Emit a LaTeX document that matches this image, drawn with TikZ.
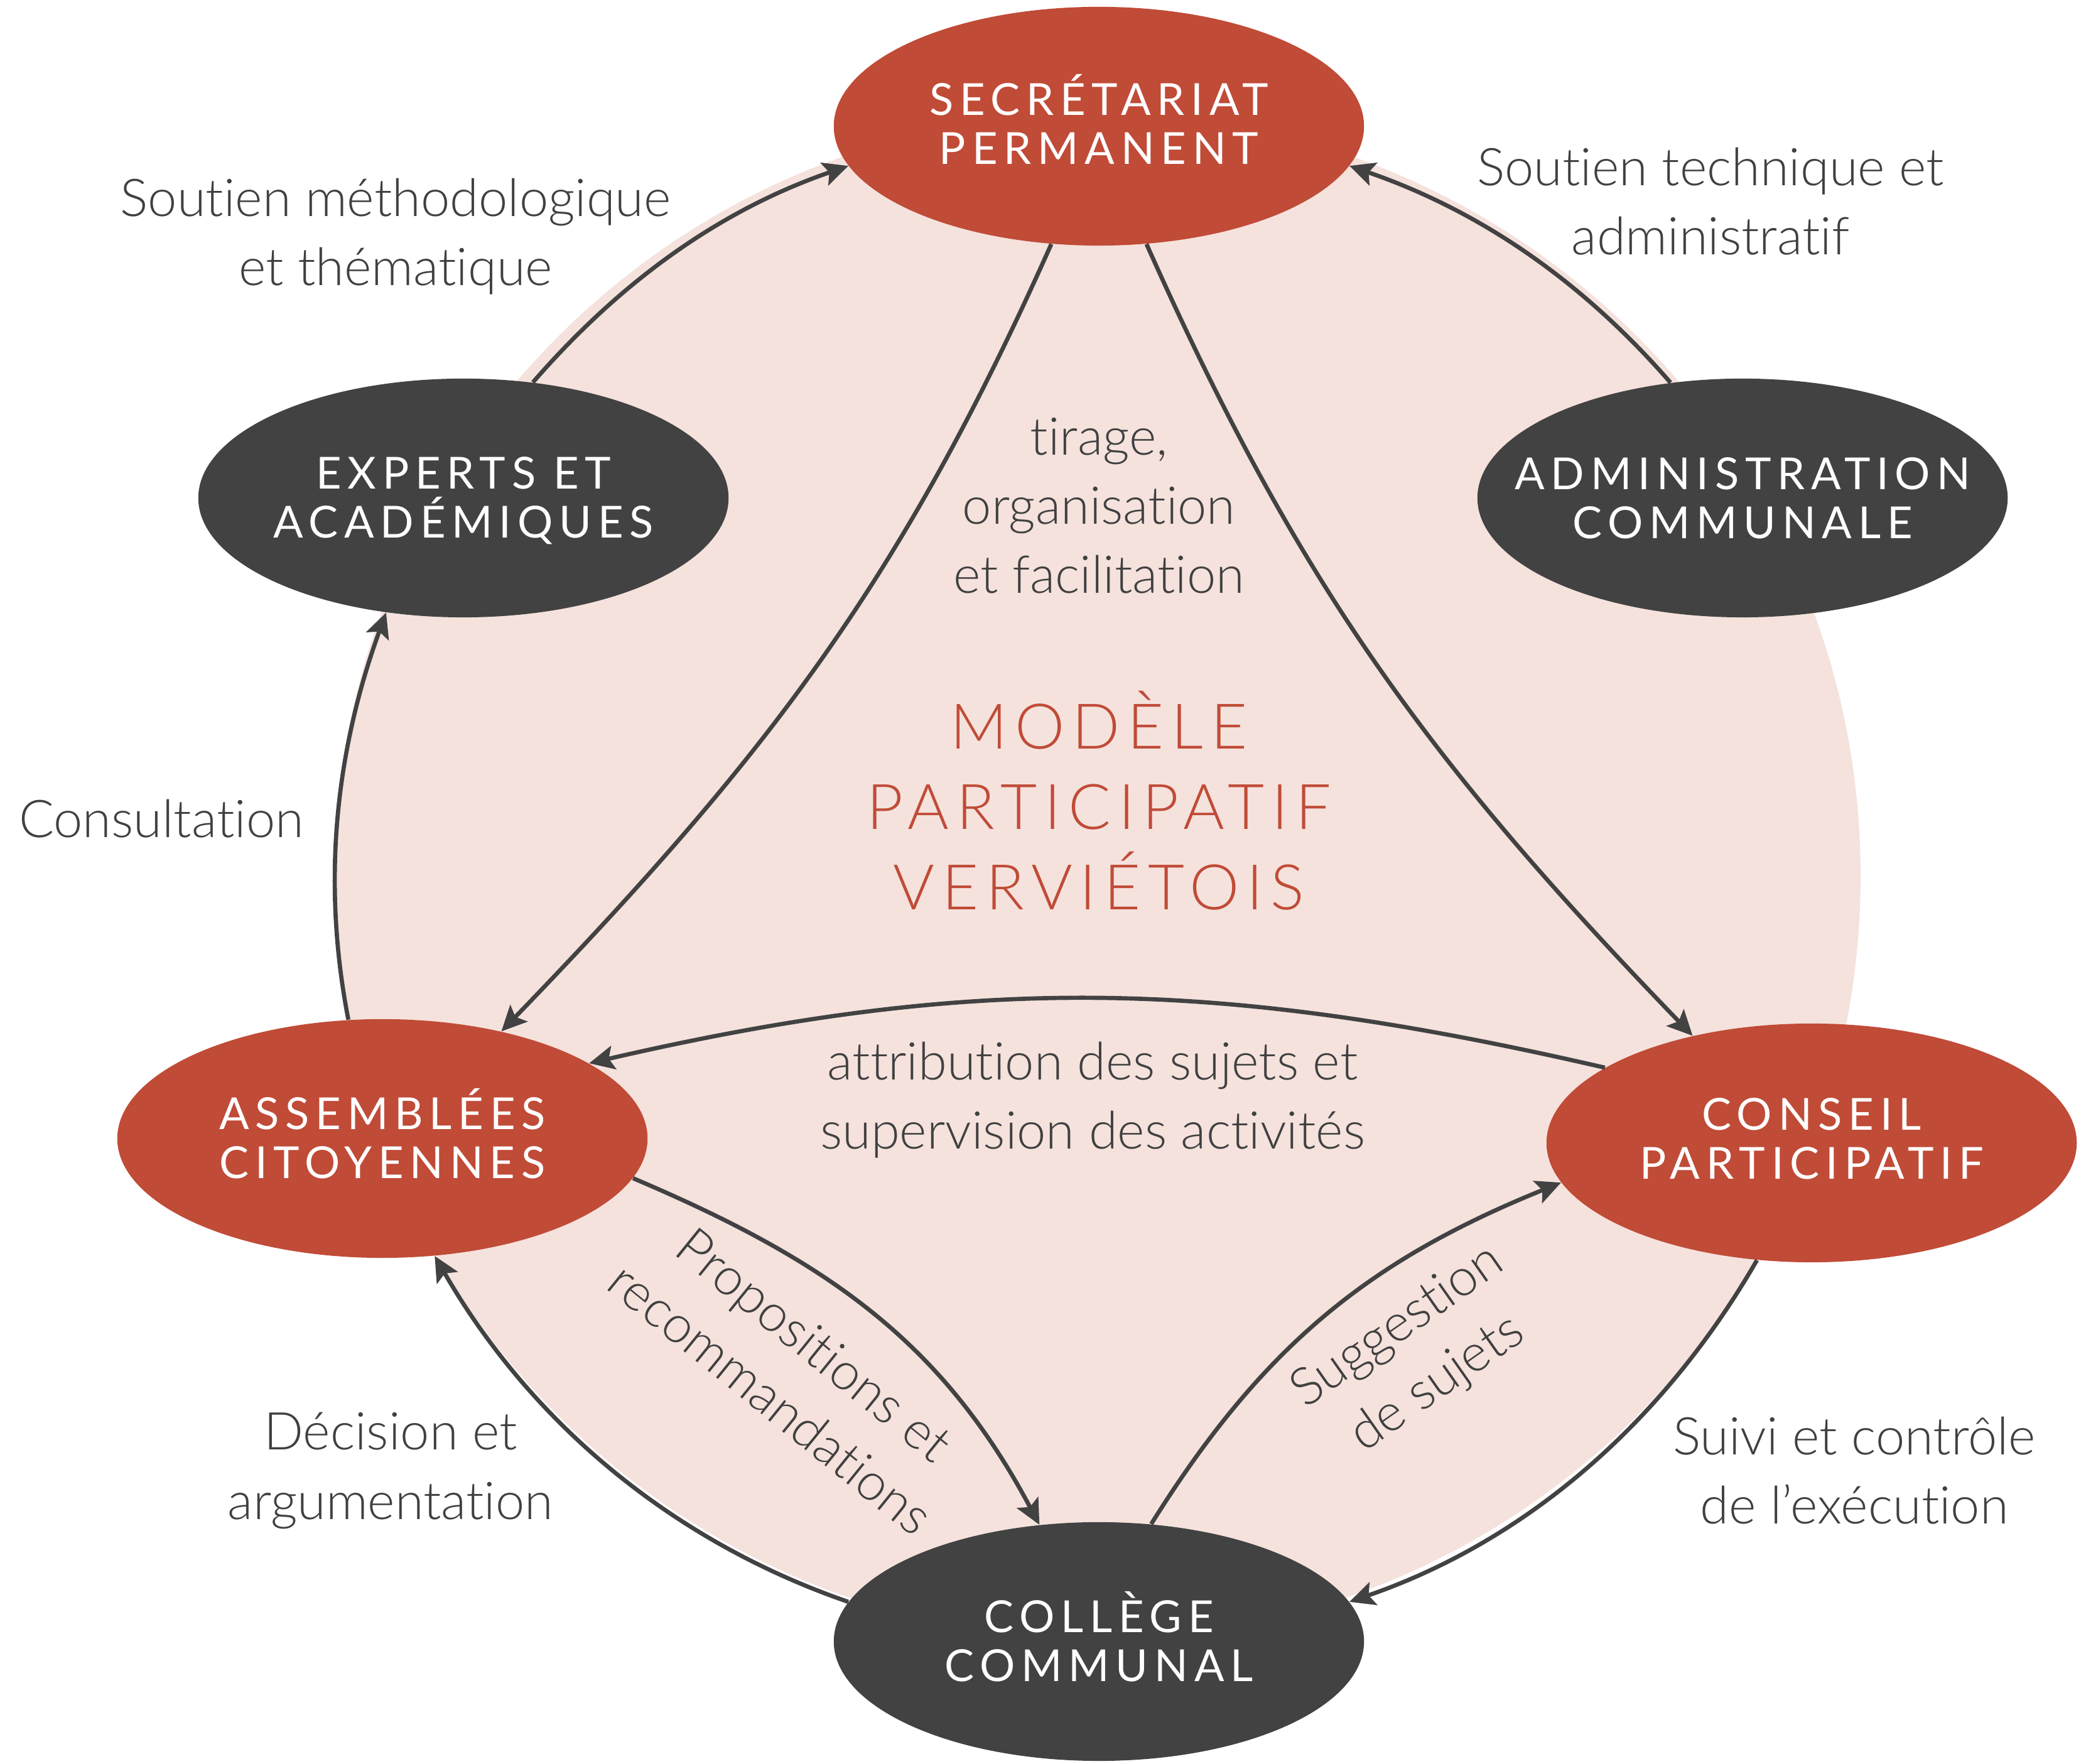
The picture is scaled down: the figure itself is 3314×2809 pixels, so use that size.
\documentclass[tikz,border=0pt]{standalone}
\usepackage{fontspec}
\setmainfont{Lato Light}[RawFeature={-liga}]
\newfontfamily\capsfont{Lato}[LetterSpace=14,RawFeature={-liga}]
\newfontfamily\titlefont{Lato Light}[LetterSpace=12,RawFeature={-liga}]
\usetikzlibrary{arrows.meta,shapes.geometric}
\definecolor{brick}{HTML}{C04B37}
\definecolor{charcoal}{HTML}{424242}
\definecolor{blush}{HTML}{F5E2DD}
\definecolor{inktext}{HTML}{404040}
\tikzset{
  bubble/.style={ellipse, minimum width=8.44cm, minimum height=3.8cm, inner sep=0pt},
  redbubble/.style={bubble, fill=brick},
  greybubble/.style={bubble, fill=charcoal},
  bubbletext/.style={text=white, align=center, inner sep=0pt, font=\capsfont\fontsize{20}{22.2}\selectfont},
  caption/.style={text=inktext, align=center, inner sep=0pt, font=\fontsize{23.6}{31.3}\selectfont},
  titletext/.style={text=brick, align=center, inner sep=0pt, font=\titlefont\fontsize{28.5}{36.4}\selectfont},
  flow/.style={draw=charcoal, line width=1.9pt, -{Stealth[length=4mm,width=3.8mm,inset=0.8mm]}},
  ring/.style={flow, looseness=0.9},
}
\begin{document}
\begin{tikzpicture}[x=0.01cm,y=0.01cm]
\useasboundingbox (0,0) rectangle (3314,2809);
\fill[blush] (1748,1414) circle (1215);

\node[redbubble]  (S)  at (1750,2608) {};
\node[greybubble] (E)  at (738,2016) {};
\node[greybubble] (A)  at (2775,2016) {};
\node[redbubble]  (AC) at (609,996) {};
\node[redbubble]  (CP) at (2885,989) {};
\node[greybubble] (CC) at (1750,195) {};

\node[bubbletext] (S-t)  at (1750,2619) {SECRÉTARIAT\\PERMANENT};
\node[bubbletext] (E-t)  at (738,2012) {EXPERTS ET\\ACADÉMIQUES};
\node[bubbletext] (A-t)  at (A)  {ADMINISTRATION\\COMMUNALE};
\node[bubbletext] (AC-t) at (609,1004) {ASSEMBLÉES\\CITOYENNES};
\node[bubbletext] (CP-t) at (2885,996) {CONSEIL\\PARTICIPATIF};
\node[bubbletext] (CC-t) at (1750,203) {COLLÈGE\\COMMUNAL};

\node[titletext] (title) at (1750,1534) {MODÈLE\\PARTICIPATIF\\VERVIÉTOIS};

\draw[ring] (E.59) to[out=49,in=199] (S.189);
\draw[ring] (A.122) to[out=131,in=341] (S.351);
\draw[flow] (S.248) to[out=246,in=46] (AC.42);
\draw[flow] (S.292) to[out=294,in=134] (CP.138);
\draw[flow] (CP.160) to[out=167,in=13] (AC.20);
\draw[flow] (AC.351) to[out=337,in=118] (CC.117);
\draw[flow] (CC.66) to[out=58,in=202] (CP.189);
\draw[ring] (CC.171) to[out=161,in=300] (AC.294);
\draw[ring] (CP.245) to[out=240,in=19] (CC.9);
\draw[ring] (AC.106) to[out=101,in=250] (E.236);

\node[caption] (l-meth) at (630,2432) {Soutien méthodologique\\et thématique};
\node[caption] (l-tech) at (2724,2488) {Soutien technique et\\administratif};
\node[caption] (l-tir) at (1750,2004) {tirage,\\organisation\\et facilitation};
\node[caption] (l-cons) at (257,1505) {Consultation};
\node[caption] (l-attr) at (1740,1057) {attribution des sujets et\\supervision des activités};
\node[caption, rotate=-39] (l-prop) at (1262,625) {Propositions et\\recommandations};
\node[caption, rotate=35] (l-sugg) at (2258,650) {Suggestion\\de sujets};
\node[caption] (l-dec) at (622,467) {Décision et\\argumentation};
\node[caption] (l-suivi) at (2953,467) {Suivi et contrôle\\de l’exécution};
\end{tikzpicture}
\end{document}
